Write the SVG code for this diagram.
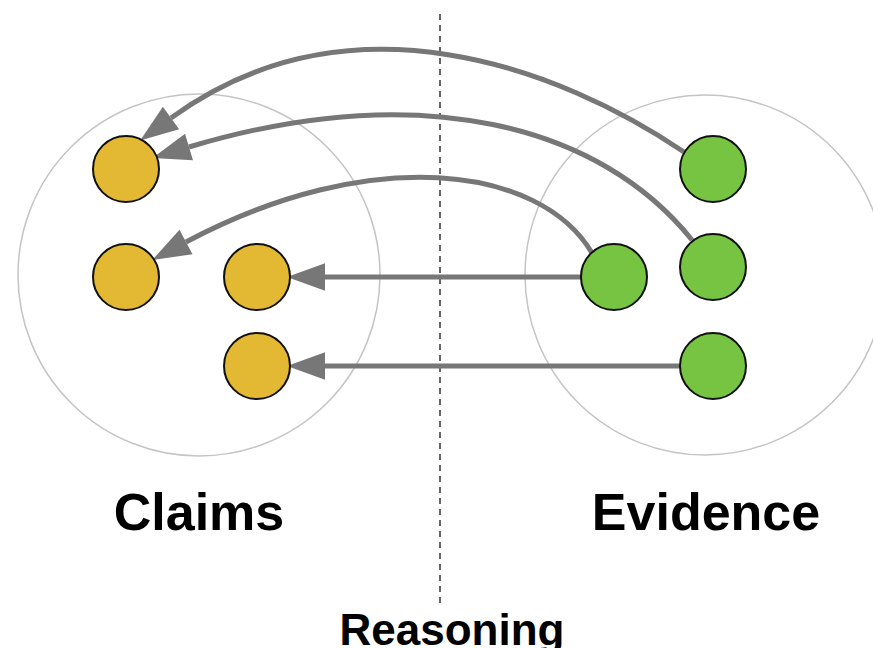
<svg xmlns="http://www.w3.org/2000/svg" width="873" height="648" viewBox="0 0 873 648">
  <style>
    .group { fill: none; stroke: #c4c4c4; stroke-width: 1.5; }
    .claim { fill: #E3B934; stroke: #111; stroke-width: 2; }
    .evid { fill: #76C442; stroke: #111; stroke-width: 2; }
    .conn { fill: none; stroke: #777; stroke-width: 5; marker-end: url(#head); }
    .lbl { font-family: "Liberation Sans", Arial, sans-serif; font-weight: bold; fill: #000; text-anchor: middle; }
  </style>
  <defs>
    <marker id="head" markerUnits="userSpaceOnUse" markerWidth="40" markerHeight="30" viewBox="0 -13 34 26" refX="0" refY="0" orient="auto">
      <path d="M0,-12 L33,0 L0,12 Z" fill="#777"/>
    </marker>
  </defs>
  <rect width="873" height="648" fill="#fff"/>
  <g id="claims-set"><circle class="group" cx="199" cy="275" r="181"/></g>
  <g id="evidence-set"><circle class="group" cx="705" cy="275" r="180"/></g>
  <g id="divider"><line x1="440" y1="14" x2="440" y2="606" stroke="#333" stroke-width="1.5" stroke-dasharray="6,5"/></g>
  <g id="connectors">
    <path class="conn" d="M 684 152 C 560 68, 350 -12, 171 118"/>
    <path class="conn" d="M 692 240 C 600 125, 420 78, 189 147"/>
    <path class="conn" d="M 592 253 C 540 165, 370 144, 186 242"/>
    <path class="conn" d="M 581 277 L 325 277"/>
    <path class="conn" d="M 680 366 L 325 366"/>
  </g>
  <g id="c1"><circle class="claim" cx="126" cy="169" r="33"/></g>
  <g id="c2"><circle class="claim" cx="126" cy="277" r="33"/></g>
  <g id="c3"><circle class="claim" cx="257" cy="277" r="33"/></g>
  <g id="c4"><circle class="claim" cx="257" cy="366" r="33"/></g>
  <g id="e1"><circle class="evid" cx="713" cy="169" r="33"/></g>
  <g id="e2"><circle class="evid" cx="713" cy="267" r="33"/></g>
  <g id="e3"><circle class="evid" cx="614" cy="277" r="33"/></g>
  <g id="e4"><circle class="evid" cx="713" cy="366" r="33"/></g>
  <g id="labels">
    <text class="lbl" x="199" y="530" font-size="52">Claims</text>
    <text class="lbl" x="706" y="530" font-size="52">Evidence</text>
    <text class="lbl" x="452" y="645" font-size="44">Reasoning</text>
  </g>
</svg>
